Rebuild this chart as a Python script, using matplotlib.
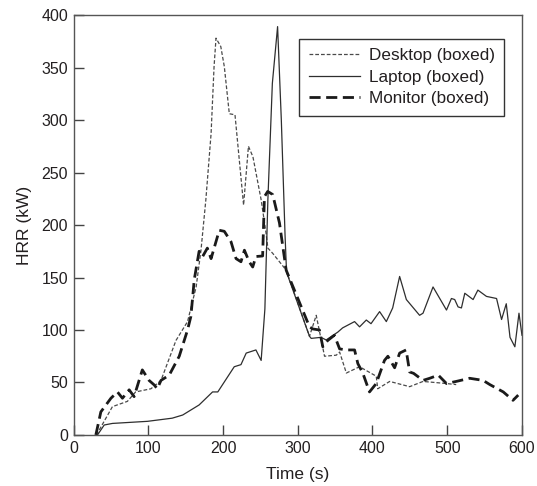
import matplotlib
matplotlib.use("Agg")
import matplotlib.pyplot as plt

plt.rcParams['font.family'] = ['Liberation Sans', 'DejaVu Sans']

# Desktop (boxed) - time (s), HRR (kW)
desktop_t = [30.6, 52, 72, 83, 103.5, 117, 137, 152.5, 164, 170.5, 177, 184, 188,
             190.6, 197, 201.7, 208.4, 216, 227.5, 234, 240, 251, 257.6, 260, 266.5,
             284.5, 315.7, 324.7, 335.8, 351.5, 356, 365, 382.7, 405, 407, 423,
             449.7, 467.6, 499, 512]
desktop_hrr = [0, 27, 32, 41, 44, 52, 90, 108, 141, 176, 224, 287, 351,
               378, 370, 351, 306, 305, 219, 275, 265, 224, 192, 178, 173,
               157, 94, 114, 75, 76, 79, 59, 65, 56, 44, 51,
               46, 51, 49, 48]

# Laptop (boxed)
laptop_t = [32, 41, 52, 99, 132, 146, 168, 186, 193, 215, 224, 231, 244, 251, 256,
            260, 266, 273, 278, 283, 285, 315.7, 318, 331, 338, 353.6, 360, 376,
            382.7, 391.7, 398, 409.5, 418.5, 427, 436.3, 445.3, 463, 467.6, 481,
            499, 505.6, 510, 514.5, 519, 523.5, 534.6, 541, 552.5, 566, 572.7,
            579, 584, 590.5, 596, 600]
laptop_hrr = [0, 9.5, 11, 13, 16, 19, 28.6, 41, 41, 65, 67, 78, 81, 71, 120,
              224, 335, 389, 300, 190, 155, 94, 92, 93, 90.5, 98, 102, 108,
              103, 109.5, 106, 117.5, 108, 121, 151, 129, 114, 116, 141,
              119, 130, 129, 122, 121, 135, 129, 138, 132, 130, 110,
              125, 93, 84, 116, 95]

# Monitor (boxed)
monitor_t = [29.8, 36.5, 50, 58.7, 65.4, 74.4, 81, 92, 101, 108, 112, 117, 128,
             141.4, 152.5, 157, 161.5, 168, 172.7, 179, 184, 195, 201.7, 210.7,
             217.4, 224, 228.6, 235, 239.7, 244, 253, 255.4, 259.8, 266.5, 275.5,
             284.5, 315.7, 320, 329, 333.5, 340, 349, 356, 365, 376, 380.4, 387,
             396, 405, 416, 420.6, 429.6, 436.3, 445, 449.7, 455, 467.6, 476.5,
             488, 499, 512, 530, 548, 557, 575, 588, 595]
monitor_hrr = [0, 22, 35, 41, 35, 43, 36.5, 62, 52, 47.6, 44, 52, 57,
               75, 100, 113, 148, 175, 170, 178, 168, 195, 194, 184,
               168, 165, 176, 165, 160, 170, 170.5, 227, 232, 229, 202,
               157, 103, 101, 100, 84, 90, 95, 82, 81, 81, 68, 59,
               41, 49, 71, 75, 64, 78, 81, 60, 58.7, 52, 54,
               57, 49, 51, 54, 52, 48, 41, 33, 38]

x_ticks = [0, 100, 200, 300, 400, 500, 600]
y_ticks = [0, 50, 100, 150, 200, 250, 300, 350, 400]

text_color = '#231f20'

fig = plt.figure(figsize=(5.37, 4.86), dpi=100)
ax = fig.add_axes([0.137, 0.105, 0.835, 0.864])

ax.plot(desktop_t, desktop_hrr, color='#4a4a4a', linewidth=0.9,
        dashes=(3.0, 1.6), label='Desktop (boxed)')
ax.plot(laptop_t, laptop_hrr, color='#2e2e2e', linewidth=0.9,
        linestyle='-', label='Laptop (boxed)')
ax.plot(monitor_t, monitor_hrr, color='#1a1a1a', linewidth=2.0,
        dashes=(4.0, 2.0), label='Monitor (boxed)')

ax.set_xlim(0, 600)
ax.set_ylim(0, 400)
ax.set_xticks(x_ticks)
ax.set_yticks(y_ticks)
ax.tick_params(direction='in', length=7, width=1, color='#444444',
               labelsize=11.5, labelcolor=text_color, pad=4)

for spine in ax.spines.values():
    spine.set_color('#555555')
    spine.set_linewidth(1.0)

ax.set_xlabel('Time (s)', fontsize=12.5, color=text_color, labelpad=8)
ax.set_ylabel('HRR (kW)', fontsize=12.5, color=text_color, labelpad=7)

leg = ax.legend(loc='upper right', bbox_to_anchor=(0.96, 0.943),
                borderaxespad=0, fontsize=12.3, frameon=True, fancybox=False,
                framealpha=1, edgecolor='#333333', handlelength=3.0,
                handletextpad=0.5, labelspacing=0.38, borderpad=0.55)
leg.get_frame().set_linewidth(1.0)
for txt in leg.get_texts():
    txt.set_color(text_color)

fig.savefig('out.png', dpi=100, facecolor='white')
plt.close(fig)
